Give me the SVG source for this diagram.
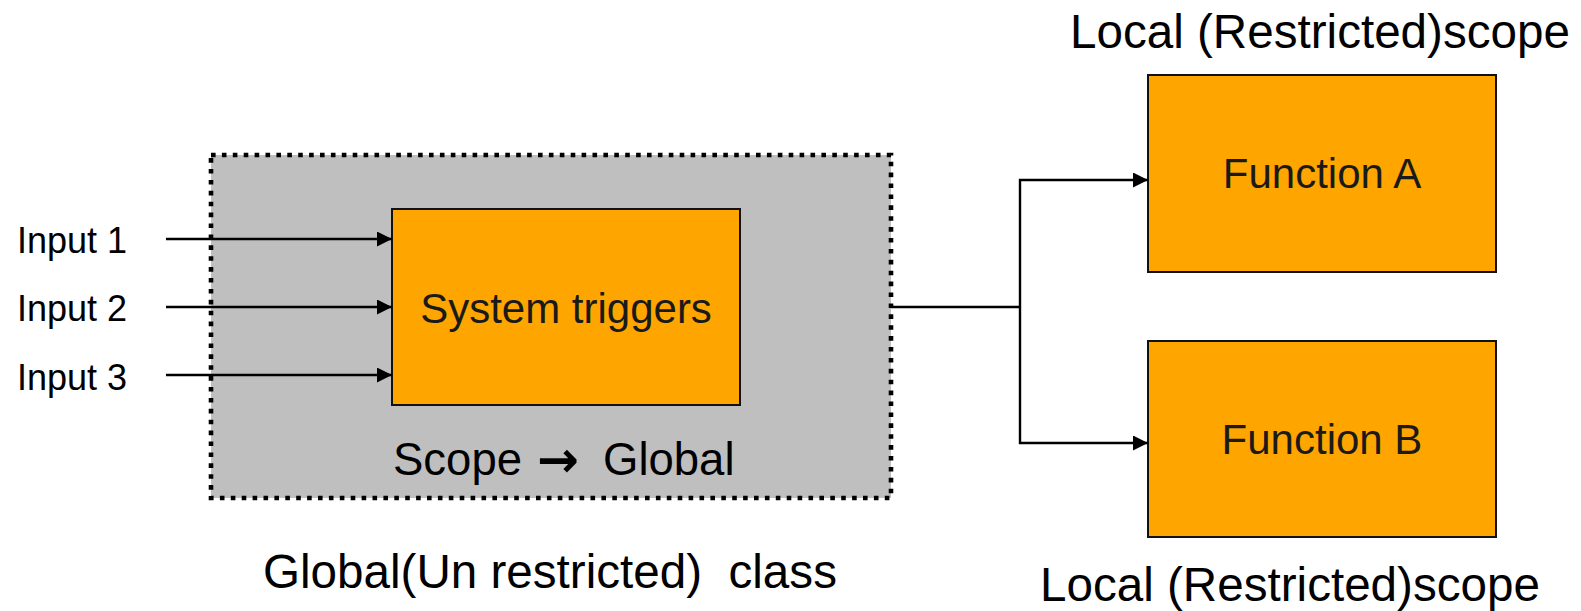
<svg xmlns="http://www.w3.org/2000/svg" width="1581" height="611" viewBox="0 0 1581 611">
  <style>
    .lbl { font-family: "Liberation Sans", Arial, sans-serif; fill: #000; }
    .box { fill: #FFA500; stroke: #111; stroke-width: 2; }
    .boxtxt { font-family: "Liberation Sans", Arial, sans-serif; font-size: 42px; fill: #1a1a1a; text-anchor: middle; }
    .conn { fill: none; stroke: #000; stroke-width: 2.4; }
  </style>
  <defs>
    <marker id="arrow" markerUnits="userSpaceOnUse" markerWidth="16" markerHeight="16" refX="15" refY="7.5" orient="auto">
      <path d="M0,0 L15,7.5 L0,15 z" fill="#000"/>
    </marker>
  </defs>
  <rect width="1581" height="611" fill="#fff"/>

  <g id="global-scope">
    <rect x="211" y="155" width="680" height="343" fill="#BFBFBF" stroke="#000" stroke-width="4.6" stroke-dasharray="4.6 6.3"/>
    <text class="lbl" font-size="45.5" y="475"><tspan x="393">Scope</tspan><tspan x="537" y="477" font-family="'DejaVu Sans', sans-serif" font-weight="bold" font-size="50">→</tspan><tspan x="603" y="475">Global</tspan></text>
  </g>

  <g id="system-triggers">
    <rect class="box" x="392" y="209" width="348" height="196"/>
    <text class="boxtxt" x="566" y="323">System triggers</text>
  </g>

  <g id="function-a">
    <rect class="box" x="1148" y="75" width="348" height="197"/>
    <text class="boxtxt" x="1322" y="188">Function A</text>
  </g>

  <g id="function-b">
    <rect class="box" x="1148" y="341" width="348" height="196"/>
    <text class="boxtxt" x="1322" y="454">Function B</text>
  </g>

  <g id="inputs">
    <text class="lbl" font-size="36" x="17" y="253">Input 1</text>
    <text class="lbl" font-size="36" x="17" y="321">Input 2</text>
    <text class="lbl" font-size="36" x="17" y="390">Input 3</text>
  </g>

  <g id="labels">
    <text class="lbl" font-size="47.6" x="1070" y="48">Local (Restricted)scope</text>
    <text class="lbl" font-size="47.6" x="1040" y="601">Local (Restricted)scope</text>
    <text class="lbl" font-size="47.6" x="263" y="588" xml:space="preserve">Global(Un restricted)  class</text>
  </g>

  <g id="connectors">
    <line class="conn" x1="166" y1="239" x2="392" y2="239" marker-end="url(#arrow)"/>
    <line class="conn" x1="166" y1="307" x2="392" y2="307" marker-end="url(#arrow)"/>
    <line class="conn" x1="166" y1="375" x2="392" y2="375" marker-end="url(#arrow)"/>
    <polyline class="conn" points="891,307 1020,307"/>
    <polyline class="conn" points="1020,307 1020,180 1148,180" marker-end="url(#arrow)"/>
    <polyline class="conn" points="1020,307 1020,443 1148,443" marker-end="url(#arrow)"/>
  </g>
</svg>
